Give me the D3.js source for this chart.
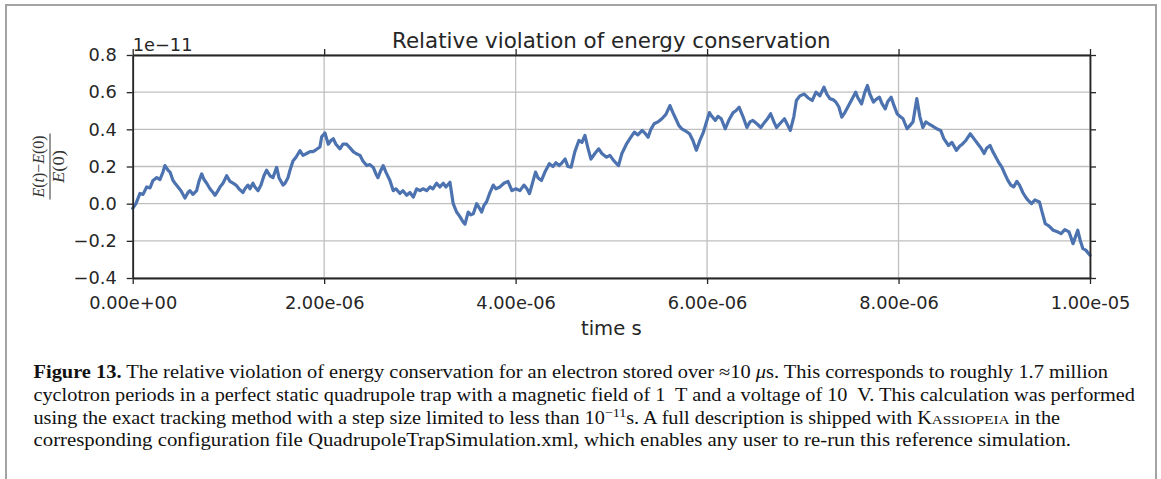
<!DOCTYPE html>
<html>
<head>
<meta charset="utf-8">
<script src="https://cdn.jsdelivr.net/npm/d3@7"></script>
<style>
  html, body { margin: 0; padding: 0; background: #fff; }
  svg { display: block; }
</style>
</head>
<body>
<svg id="fig" width="1161" height="479"></svg>
<script>
// time in microseconds
const timeUs = [
  0.000, 0.034, 0.076, 0.108, 0.146, 0.181, 0.212, 0.251, 0.285, 0.316,
  0.337, 0.369, 0.390, 0.421, 0.442, 0.473, 0.504, 0.546, 0.578, 0.598,
  0.630, 0.668, 0.692, 0.721, 0.745, 0.773, 0.807, 0.839, 0.860, 0.891,
  0.912, 0.943, 0.982, 1.016, 1.048, 1.079, 1.110, 1.152, 1.173, 1.204,
  1.225, 1.256, 1.277, 1.309, 1.340, 1.371, 1.399, 1.434, 1.465, 1.486,
  1.504, 1.528, 1.570, 1.591, 1.622, 1.643, 1.674, 1.706, 1.747, 1.779,
  1.817, 1.852, 1.883, 1.914, 1.956, 1.974, 2.008, 2.043, 2.071, 2.095,
  2.123, 2.165, 2.196, 2.235, 2.270, 2.304, 2.332, 2.374, 2.405, 2.444,
  2.478, 2.513, 2.541, 2.562, 2.593, 2.617, 2.645, 2.687, 2.722, 2.750,
  2.792, 2.823, 2.862, 2.896, 2.931, 2.966, 3.001, 3.032, 3.071, 3.105,
  3.136, 3.175, 3.209, 3.244, 3.272, 3.314, 3.348, 3.384, 3.418, 3.453,
  3.471, 3.505, 3.533, 3.557, 3.593, 3.617, 3.645, 3.669, 3.697, 3.732,
  3.766, 3.794, 3.836, 3.878, 3.920, 3.961, 4.003, 4.045, 4.087, 4.118,
  4.145, 4.181, 4.208, 4.233, 4.270, 4.306, 4.352, 4.390, 4.421, 4.455,
  4.484, 4.517, 4.546, 4.580, 4.619, 4.661, 4.693, 4.724, 4.755, 4.787,
  4.828, 4.868, 4.901, 4.950, 4.985, 5.027, 5.075, 5.110, 5.157, 5.194,
  5.240, 5.277, 5.322, 5.350, 5.384, 5.413, 5.447, 5.486, 5.528, 5.570,
  5.612, 5.643, 5.673, 5.706, 5.735, 5.779, 5.817, 5.852, 5.888, 5.925,
  5.962, 5.988, 6.024, 6.050, 6.086, 6.113, 6.148, 6.189, 6.228, 6.272,
  6.301, 6.334, 6.374, 6.416, 6.447, 6.478, 6.520, 6.561, 6.604, 6.635,
  6.664, 6.698, 6.726, 6.760, 6.808, 6.844, 6.870, 6.907, 6.933, 6.969,
  7.015, 7.053, 7.098, 7.138, 7.178, 7.221, 7.251, 7.283, 7.314, 7.345,
  7.377, 7.407, 7.439, 7.469, 7.512, 7.552, 7.575, 7.614, 7.648, 7.675,
  7.700, 7.738, 7.763, 7.800, 7.826, 7.861, 7.888, 7.923, 7.951, 7.985,
  8.014, 8.047, 8.089, 8.118, 8.151, 8.170, 8.191, 8.222, 8.254, 8.285,
  8.315, 8.348, 8.377, 8.410, 8.440, 8.473, 8.522, 8.557, 8.605, 8.640,
  8.666, 8.703, 8.749, 8.787, 8.831, 8.860, 8.894, 8.922, 8.956, 8.985,
  9.017, 9.048, 9.079, 9.110, 9.142, 9.173, 9.203, 9.236, 9.265, 9.298,
  9.327, 9.350, 9.389, 9.424, 9.472, 9.497, 9.533, 9.570, 9.616, 9.653,
  9.698, 9.737, 9.781, 9.800, 9.823, 9.847, 9.872, 9.899, 9.926, 9.956,
  10.000
];

// (E(t) - E(0)) / E(0), in units of 1e-11
const violation = [
  -0.025, 0.000, 0.055, 0.050, 0.090, 0.085, 0.125, 0.140, 0.130, 0.170,
  0.205, 0.180, 0.170, 0.125, 0.110, 0.090, 0.070, 0.030, 0.060, 0.070,
  0.050, 0.070, 0.120, 0.160, 0.130, 0.110, 0.080, 0.060, 0.045, 0.070,
  0.090, 0.110, 0.150, 0.120, 0.110, 0.100, 0.080, 0.060, 0.080, 0.100,
  0.080, 0.110, 0.090, 0.070, 0.100, 0.150, 0.180, 0.150, 0.140, 0.170,
  0.195, 0.140, 0.100, 0.110, 0.140, 0.180, 0.230, 0.250, 0.285, 0.260,
  0.270, 0.280, 0.280, 0.290, 0.305, 0.360, 0.380, 0.320, 0.340, 0.350,
  0.320, 0.295, 0.320, 0.320, 0.300, 0.280, 0.270, 0.260, 0.230, 0.205,
  0.210, 0.195, 0.160, 0.140, 0.180, 0.205, 0.170, 0.125, 0.070, 0.080,
  0.055, 0.070, 0.045, 0.060, 0.035, 0.080, 0.070, 0.080, 0.070, 0.090,
  0.080, 0.110, 0.090, 0.110, 0.090, 0.115, 0.000, -0.045, -0.070, -0.100,
  -0.110, -0.045, -0.060, -0.055, 0.000, -0.020, -0.045, -0.010, 0.010, 0.060,
  0.100, 0.080, 0.090, 0.110, 0.120, 0.070, 0.080, 0.070, 0.100, 0.080,
  0.054, 0.120, 0.170, 0.140, 0.125, 0.170, 0.215, 0.200, 0.220, 0.205,
  0.220, 0.240, 0.200, 0.197, 0.280, 0.340, 0.330, 0.367, 0.300, 0.240,
  0.270, 0.295, 0.270, 0.250, 0.260, 0.230, 0.205, 0.270, 0.320, 0.350,
  0.385, 0.370, 0.394, 0.380, 0.358, 0.400, 0.430, 0.440, 0.457, 0.480,
  0.528, 0.490, 0.457, 0.420, 0.403, 0.390, 0.376, 0.340, 0.287, 0.340,
  0.385, 0.430, 0.490, 0.470, 0.448, 0.470, 0.457, 0.403, 0.450, 0.490,
  0.500, 0.519, 0.470, 0.410, 0.440, 0.448, 0.430, 0.410, 0.440, 0.460,
  0.484, 0.440, 0.410, 0.430, 0.457, 0.420, 0.394, 0.470, 0.555, 0.580,
  0.590, 0.570, 0.555, 0.600, 0.580, 0.627, 0.590, 0.565, 0.560, 0.547,
  0.520, 0.466, 0.490, 0.519, 0.560, 0.600, 0.570, 0.537, 0.600, 0.636,
  0.590, 0.547, 0.560, 0.573, 0.540, 0.510, 0.550, 0.573, 0.530, 0.484,
  0.470, 0.457, 0.403, 0.420, 0.440, 0.500, 0.565, 0.470, 0.410, 0.440,
  0.430, 0.420, 0.410, 0.400, 0.394, 0.350, 0.313, 0.330, 0.287, 0.310,
  0.320, 0.340, 0.376, 0.350, 0.320, 0.300, 0.270, 0.300, 0.313, 0.280,
  0.250, 0.220, 0.197, 0.160, 0.125, 0.100, 0.090, 0.120, 0.098, 0.060,
  0.036, 0.020, 0.000, 0.020, 0.009, -0.040, -0.108, -0.120, -0.143, -0.150,
  -0.161, -0.140, -0.152, -0.180, -0.215, -0.180, -0.143, -0.200, -0.242, -0.250,
  -0.278
];

const xTicks = [0, 2, 4, 6, 8, 10];
const yTicks = [-0.4, -0.2, 0.0, 0.2, 0.4, 0.6, 0.8];

const titleText = 'Relative violation of energy conservation';
const xLabel = 'time s';
const offsetText = '1e\u221211';

const margin = { left: 132.7, right: 1090, top: 55, bottom: 278 };
const fontSans = 'DejaVu Sans, sans-serif';
const fontSerif = 'Liberation Serif, Times New Roman, serif';
const ink = '#262626';

const svg = d3.select('#fig');
svg.append('rect').attr('width', 1161).attr('height', 479).attr('fill', '#fff');

// page frame (open at the bottom)
svg.append('path')
  .attr('d', 'M6,490 V5 H1156 V490')
  .attr('fill', 'none')
  .attr('stroke', '#a3a3a3')
  .attr('stroke-width', 2);

const x = d3.scaleLinear().domain([0, 10]).range([margin.left, margin.right]);
const y = d3.scaleLinear().domain([-0.4, 0.8]).range([margin.bottom, margin.top]);

const fmtExp = (d) => {
  const s = (d * 1e-6).toExponential(2);
  return s.replace(/e([+-])(\d+)$/, (m, sign, num) => 'e' + sign + num.padStart(2, '0'));
};

// grid
svg.append('g')
  .selectAll('line.vg')
  .data(xTicks).enter().append('line')
  .attr('x1', d => x(d)).attr('x2', d => x(d))
  .attr('y1', margin.top).attr('y2', margin.bottom)
  .attr('stroke', '#bfbfbf').attr('stroke-width', 1.3);
svg.append('g')
  .selectAll('line.hg')
  .data(yTicks).enter().append('line')
  .attr('x1', margin.left).attr('x2', margin.right)
  .attr('y1', d => y(d)).attr('y2', d => y(d))
  .attr('stroke', '#bfbfbf').attr('stroke-width', 1.3);

// data line
const line = d3.line()
  .x((d, i) => x(timeUs[i]))
  .y(d => y(d));

svg.append('path')
  .datum(violation)
  .attr('d', line)
  .attr('fill', 'none')
  .attr('stroke', '#4c72b0')
  .attr('stroke-width', 3.2)
  .attr('stroke-linejoin', 'round')
  .attr('stroke-linecap', 'round');

const styleAxis = (g) => {
  g.select('.domain').attr('stroke', ink).attr('stroke-width', 1.8);
  g.selectAll('.tick line').attr('stroke', ink).attr('stroke-width', 1.3);
  g.selectAll('.tick text')
    .attr('fill', ink)
    .style('font-family', fontSans)
    .style('font-size', '17.8px');
  g.attr('font-family', null).attr('font-size', null);
};

svg.append('g')
  .attr('transform', `translate(0,${margin.bottom})`)
  .call(d3.axisBottom(x).tickValues(xTicks).tickSize(6).tickSizeOuter(0)
    .tickPadding(12.5).tickFormat(fmtExp))
  .call(styleAxis);

svg.append('g')
  .attr('transform', `translate(0,${margin.top})`)
  .call(d3.axisTop(x).tickValues(xTicks).tickSize(6).tickSizeOuter(0).tickFormat(''))
  .call(styleAxis);

svg.append('g')
  .attr('transform', `translate(${margin.left},0)`)
  .call(d3.axisLeft(y).tickValues(yTicks).tickSize(6).tickSizeOuter(0)
    .tickPadding(10).tickFormat(d3.format('.1f')))
  .call(styleAxis);

svg.append('g')
  .attr('transform', `translate(${margin.right},0)`)
  .call(d3.axisRight(y).tickValues(yTicks).tickSize(6).tickSizeOuter(0).tickFormat(''))
  .call(styleAxis);

// title, offset text, x label
svg.append('text')
  .attr('x', (margin.left + margin.right) / 2)
  .attr('y', 48.3)
  .attr('text-anchor', 'middle')
  .attr('fill', ink)
  .style('font-family', fontSans)
  .style('font-size', '21.4px')
  .text(titleText);

svg.append('text')
  .attr('x', margin.left)
  .attr('y', 51)
  .attr('fill', ink)
  .style('font-family', fontSans)
  .style('font-size', '17.8px')
  .text(offsetText);

svg.append('text')
  .attr('x', (margin.left + margin.right) / 2)
  .attr('y', 335)
  .attr('text-anchor', 'middle')
  .attr('fill', ink)
  .style('font-family', fontSans)
  .style('font-size', '19.6px')
  .text(xLabel);

// y label: fraction (E(t)-E(0))/E(0), rotated
const yl = svg.append('g')
  .attr('transform', `translate(50,${(margin.top + margin.bottom) / 2}) rotate(-90)`)
  .attr('fill', '#333')
  .style('font-family', fontSerif)
  .style('font-size', '16px');

const num = yl.append('text').attr('x', 0).attr('y', -6.5)
  .attr('text-anchor', 'middle')
  .attr('textLength', 62).attr('lengthAdjust', 'spacing');
num.append('tspan').style('font-style', 'italic').text('E');
num.append('tspan').text('(');
num.append('tspan').style('font-style', 'italic').text('t');
num.append('tspan').text(')\u2212');
num.append('tspan').style('font-style', 'italic').text('E');
num.append('tspan').text('(0)');

yl.append('line')
  .attr('x1', -33).attr('x2', 33).attr('y1', 0).attr('y2', 0)
  .attr('stroke', '#333').attr('stroke-width', 1);

const den = yl.append('text').attr('x', 0).attr('y', 13.5)
  .attr('text-anchor', 'middle')
  .attr('textLength', 33).attr('lengthAdjust', 'spacingAndGlyphs');
den.append('tspan').style('font-style', 'italic').text('E');
den.append('tspan').text('(0)');

// caption
const capX = 33.5;
const capBase = [378.3, 401, 423.7, 446.3];
const capEnd = [1108, 1135, 1060, 1071];

const cap = svg.append('g')
  .attr('fill', '#111')
  .style('font-family', fontSerif)
  .style('font-size', '18px');

const c1 = cap.append('text').attr('x', capX).attr('y', capBase[0])
  .attr('textLength', capEnd[0] - capX).attr('lengthAdjust', 'spacingAndGlyphs');
c1.append('tspan').style('font-weight', 'bold').text('Figure 13.');
c1.append('tspan').text(' The relative violation of energy conservation for an electron stored over \u224810 ');
c1.append('tspan').style('font-style', 'italic').text('\u03bc');
c1.append('tspan').text('s. This corresponds to roughly 1.7 million');

cap.append('text').attr('x', capX).attr('y', capBase[1])
  .attr('textLength', capEnd[1] - capX).attr('lengthAdjust', 'spacingAndGlyphs')
  .text('cyclotron periods in a perfect static quadrupole trap with a magnetic field of 1\u00a0 T and a voltage of 10\u00a0 V. This calculation was performed');

const c3 = cap.append('text').attr('x', capX).attr('y', capBase[2])
  .attr('textLength', capEnd[2] - capX).attr('lengthAdjust', 'spacingAndGlyphs');
c3.append('tspan').text('using the exact tracking method with a step size limited to less than 10');
c3.append('tspan').attr('dy', -7).style('font-size', '12.5px').text('\u221211');
c3.append('tspan').attr('dy', 7).text('s. A full description is shipped with K');
c3.append('tspan').style('font-size', '13.5px').text('ASSIOPEIA');
c3.append('tspan').text(' in the');

cap.append('text').attr('x', capX).attr('y', capBase[3])
  .attr('textLength', capEnd[3] - capX).attr('lengthAdjust', 'spacingAndGlyphs')
  .text('corresponding configuration file QuadrupoleTrapSimulation.xml, which enables any user to re-run this reference simulation.');
</script>
</body>
</html>
